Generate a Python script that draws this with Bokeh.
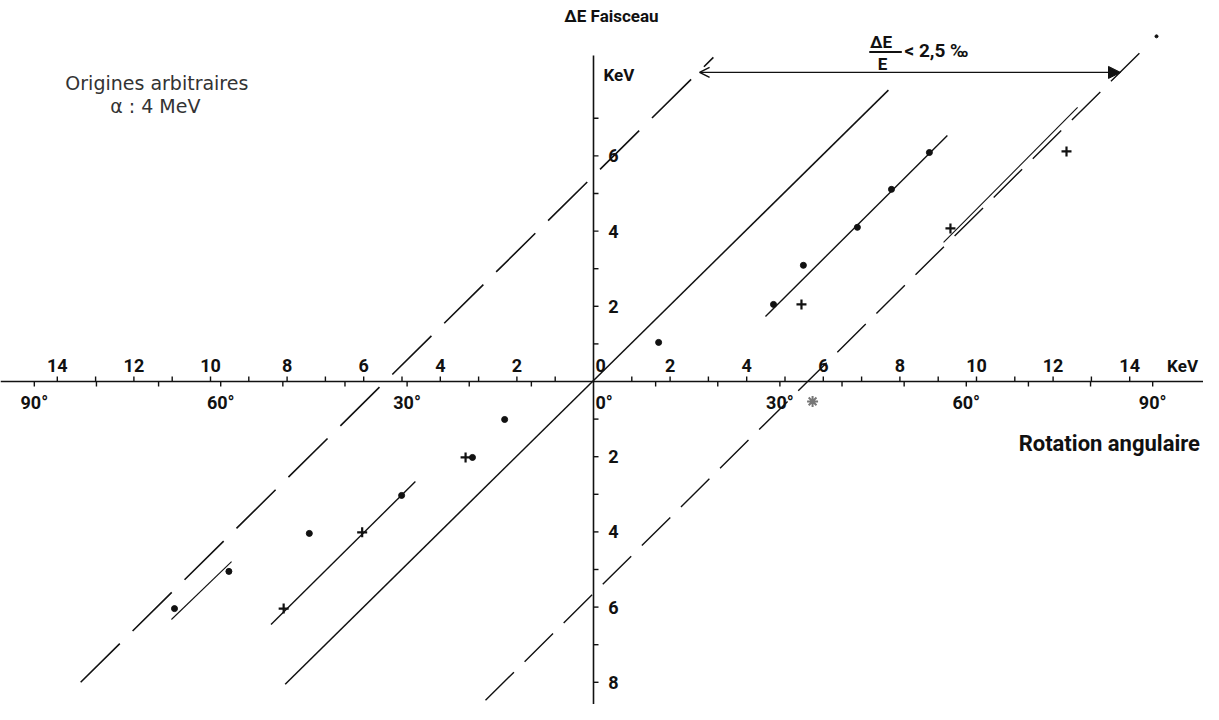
import numpy as np
from bokeh.plotting import figure
from bokeh.models import Span, Arrow, NormalHead, OpenHead
from bokeh.embed import file_html
from bokeh.resources import INLINE
from bokeh.core.properties import value

# ---------------- data (KeV) ----------------
kev_ticks = [v for v in range(-14, 15) if v != 0]
kev_label_vals = [-14, -12, -10, -8, -6, -4, -2, 0, 2, 4, 6, 8, 10, 12, 14]
angle_ticks_deg = [v for v in range(-90, 91, 10) if v != 0]
angle_label_vals = [-90, -60, -30, 0, 30, 60, 90]
dE_ticks = [v for v in range(-8, 8) if v != 0]
dE_label_vals = [-8, -6, -4, -2, 2, 4, 6]
DEG_TO_KEV = 14.6 / 90.0   # angular scale drawn against the energy scale

# straight lines (start / end)
main_line_x = [-8.05, 7.70]
main_line_y = [-8.05, 7.75]
left_dashed_x = [-13.39, 3.13]
left_dashed_y = [-8.00, 8.62]
right_dashed_x = [-2.82, 14.46]
right_dashed_y = [-8.48, 8.94]
fit_right_x = [4.49, 9.24]
fit_right_y = [1.73, 6.54]
fit_far_right_x = [9.14, 12.64]
fit_far_right_y = [3.70, 7.29]
fit_left_x = [-8.42, -4.65]
fit_left_y = [-6.46, -2.66]
fit_far_left_x = [-11.02, -9.45]
fit_far_left_y = [-6.33, -4.79]

# measured points
dots_x = [4.70, 6.89, 7.78, 8.77, 5.48, 1.70, -5.01, -7.42, -10.94, -9.52, -3.16, -2.32]
dots_y = [2.05, 4.10, 5.11, 6.09, 3.09, 1.04, -3.03, -4.04, -6.04, -5.05, -2.02, -1.01]
cross_x = [5.43, 9.32, 12.35, -6.04, -8.09, -3.34]
cross_y = [2.05, 4.07, 6.12, -4.01, -6.04, -2.02]
star_x = [5.72]
star_y = [-0.53]
tiny_x = [14.70]
tiny_y = [9.18]

# ---------------- figure ----------------
X0 = -593 / 38.3
X1 = X0 + 1203 / 38.3
Y1 = 381 / 37.6
Y0 = Y1 - 704 / 37.6
p = figure(width=1203, height=704, x_range=(X0, X1), y_range=(Y0, Y1),
           output_backend="svg", toolbar_location=None,
           x_axis_location=None, y_axis_location=None, min_border=0)
p.grid.visible = False
p.outline_line_color = None
p.background_fill_color = "white"

BOLD = value("Roboto")
INK = "#111111"
px_x = (X1 - X0) / 1203.0
px_y = (Y1 - Y0) / 704.0

# cross axes
p.add_layout(Span(location=0, dimension="width", line_color=INK, line_width=1.6))
p.segment(x0=[0], y0=[Y0], x1=[0], y1=[8.67], line_color=INK, line_width=1.6)

# KeV ticks above horizontal axis
kt = np.array(kev_ticks, dtype=float)
p.segment(x0=kt, y0=np.zeros_like(kt), x1=kt, y1=np.full_like(kt, 5 * px_y),
          line_color=INK, line_width=1.4)
# angle ticks below horizontal axis
at = np.array(angle_ticks_deg, dtype=float) * DEG_TO_KEV
p.segment(x0=at, y0=np.zeros_like(at), x1=at, y1=np.full_like(at, -5 * px_y),
          line_color=INK, line_width=1.4)
# ΔE ticks on vertical axis
dt = np.array(dE_ticks, dtype=float)
p.segment(x0=np.zeros_like(dt), y0=dt, x1=np.full_like(dt, 5 * px_x), y1=dt,
          line_color=INK, line_width=1.4)

# tick labels
TICK_FS = value("18px")
kx = [v if v != 0 else 0.05 for v in kev_label_vals]
p.text(x=kx, y=[16 * px_y] * len(kx), text=[str(abs(v)) for v in kev_label_vals],
       text_font=BOLD, text_font_style="bold", text_font_size=TICK_FS,
       text_align=["center" if v != 0 else "left" for v in kev_label_vals],
       text_baseline="middle", text_color=INK)
ax_ = [v * DEG_TO_KEV if v != 0 else 0.05 for v in angle_label_vals]
p.text(x=ax_, y=[-21 * px_y] * len(ax_), text=[f"{abs(v)}°" for v in angle_label_vals],
       text_font=BOLD, text_font_style="bold", text_font_size=TICK_FS,
       text_align=["center" if v != 0 else "left" for v in angle_label_vals],
       text_baseline="middle", text_color=INK)
p.text(x=[20 * px_x] * len(dE_label_vals), y=dE_label_vals,
       text=[str(abs(v)) for v in dE_label_vals],
       text_font=BOLD, text_font_style="bold", text_font_size=TICK_FS,
       text_align="center", text_baseline="middle", text_color=INK)

# unit / axis titles
p.text(x=[15.38], y=[16 * px_y], text=["KeV"], text_font=BOLD, text_font_style="bold",
       text_font_size=value("17px"), text_align="center", text_baseline="middle", text_color=INK)
p.text(x=[0.26], y=[8.14], text=["KeV"], text_font=BOLD, text_font_style="bold",
       text_font_size=value("17px"), text_align="left", text_baseline="middle", text_color=INK)
p.text(x=[0.47], y=[9.73], text=["ΔE Faisceau"], text_font=BOLD, text_font_style="bold",
       text_font_size=value("17px"), text_align="center", text_baseline="middle", text_color=INK)
p.text(x=[11.1], y=[-1.65], text=["Rotation angulaire"], text_font=BOLD, text_font_style="bold",
       text_font_size=value("22px"), text_align="left", text_baseline="middle", text_color=INK)
p.text(x=[-13.79], y=[7.95], text=["Origines arbitraires"], text_font=value("DejaVu Sans"),
       text_font_size=value("19px"), text_align="left", text_baseline="middle", text_color="#333333")
p.text(x=[-11.44], y=[7.34], text=["α : 4 MeV"], text_font=value("DejaVu Sans"),
       text_font_size=value("19px"), text_align="center", text_baseline="middle", text_color="#333333")

# lines
p.line(main_line_x, main_line_y, line_color=INK, line_width=1.5)
p.line(left_dashed_x, left_dashed_y, line_color=INK, line_width=1.6, line_dash="55 18")
p.line(right_dashed_x, right_dashed_y, line_color=INK, line_width=1.4, line_dash="40 15")
p.line(fit_right_x, fit_right_y, line_color=INK, line_width=1.4)
p.line(fit_far_right_x, fit_far_right_y, line_color=INK, line_width=1.1)
p.line(fit_left_x, fit_left_y, line_color=INK, line_width=1.4)
p.line(fit_far_left_x, fit_far_left_y, line_color=INK, line_width=1.1)

# points
p.scatter(dots_x, dots_y, marker="circle", size=6, fill_color=INK, line_color=INK)
p.scatter(cross_x, cross_y, marker="cross", size=10, line_color=INK, line_width=2.2)
p.scatter(star_x, star_y, marker="asterisk", size=11, line_color="#777777", line_width=2)
p.scatter(tiny_x, tiny_y, marker="circle", size=3, fill_color=INK, line_color=INK)

# resolution arrow annotation
p.add_layout(Arrow(x_start=2.77, y_start=8.22, x_end=13.76, y_end=8.22,
                   line_color=INK, line_width=1.3,
                   start=OpenHead(size=10, line_color=INK, line_width=1.5),
                   end=NormalHead(size=12, fill_color=INK, line_color=INK)))
p.text(x=[7.22], y=[9.02], text=["ΔE"], text_font=BOLD, text_font_style="bold",
       text_font_size=value("17px"), text_align="left", text_baseline="middle", text_color=INK)
p.segment(x0=[7.2], y0=[8.76], x1=[8.05], y1=[8.76], line_color=INK, line_width=2)
p.text(x=[7.42], y=[8.45], text=["E"], text_font=BOLD, text_font_style="bold",
       text_font_size=value("17px"), text_align="left", text_baseline="middle", text_color=INK)
p.text(x=[8.12], y=[8.80], text=["< 2,5 ‰"], text_font=BOLD, text_font_style="bold",
       text_font_size=value("19px"), text_align="left", text_baseline="middle", text_color=INK)

open("out.html", "w").write(file_html(p, INLINE))
